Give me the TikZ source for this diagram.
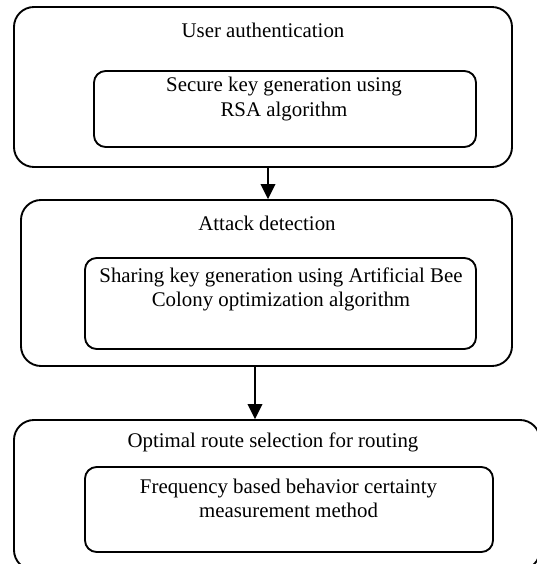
\documentclass[tikz,border=0pt]{standalone}
\usepackage{fontspec}
\setmainfont{Liberation Serif}
\usetikzlibrary{arrows.meta,positioning,calc}
\tikzset{
  outerbox/.style={draw=black, line width=1.6pt, rounded corners=0.6cm, inner sep=0pt},
  innerbox/.style={draw=black, line width=1.6pt, rounded corners=0.35cm, inner sep=0pt},
  boxtext/.style={align=center, inner sep=0pt, font=\fontsize{17.8}{21}\selectfont},
  arrow/.style={-{Triangle[length=4.5mm,width=4.4mm]}, line width=1.6pt}
}

\begin{document}
\begin{tikzpicture}[x=0.03cm,y=-0.03cm]
\useasboundingbox (0,0) rectangle (537,564);

% stage 1
\node[outerbox, minimum width=14.94cm, minimum height=4.8cm] (ua) at (263,87) {};
\node[boxtext] (uat) at (263,30) {User authentication};
\node[innerbox, minimum width=11.46cm, minimum height=2.28cm] (rsa) at (285,109) {};
\node[boxtext] (rsat) at (284,99) {Secure key generation using\\RSA algorithm};

% stage 2
\node[outerbox, minimum width=14.73cm, minimum height=4.98cm] (ad) at (266.5,283) {};
\node[boxtext] (adt) at (267,223) {Attack detection};
\node[innerbox, minimum width=11.73cm, minimum height=2.73cm] (abc) at (280.5,303.5) {};
\node[boxtext] (abct) at (281,289.5) {Sharing key generation using Artificial Bee\\Colony optimization algorithm};

% stage 3
\node[outerbox, minimum width=15.78cm, minimum height=4.5cm] (rs) at (277,495) {};
\node[boxtext] (rst) at (273,442) {Optimal route selection for routing};
\node[innerbox, minimum width=12.24cm, minimum height=2.55cm] (fb) at (289,509.5) {};
\node[boxtext] (fbt) at (288.5,498.5) {Frequency based behavior certainty\\measurement method};

\draw[arrow] ([xshift=0.15cm]ua.south) -- ([xshift=0.15cm]ua.south |- ad.north);
\draw[arrow] ([xshift=-0.345cm]ad.south) -- ([xshift=-0.345cm]ad.south |- rs.north);
\end{tikzpicture}
\end{document}
